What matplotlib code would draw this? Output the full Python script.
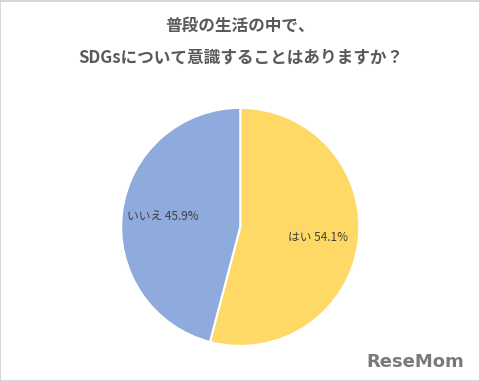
import matplotlib.pyplot as plt
from matplotlib.patches import Rectangle

plt.rcParams['font.family'] = ['Noto Sans CJK JP', 'DejaVu Sans']

labels = ['はい', 'いいえ']
values = [54.1, 45.9]
colors = ['#FFD966', '#8FAADC']

fig = plt.figure(figsize=(4.81, 3.81), dpi=100)
fig.patch.set_facecolor('white')

# light frame round the picture
fig.patches.append(Rectangle((0.001, 0.001), 0.997, 0.996, transform=fig.transFigure,
                             fill=False, edgecolor='#D0D0D0', linewidth=1.2))

ax = fig.add_axes([0.252, 0.092, 0.495, 0.625])
names = iter(labels)
ax.pie(values, colors=colors, startangle=90, counterclock=False,
       wedgeprops=dict(edgecolor='white', linewidth=1.5),
       autopct=lambda p: f'{next(names)} {p:.1f}%', pctdistance=0.66,
       textprops=dict(color='#404040', fontsize=8.5))
ax.set_xlim(-1, 1)
ax.set_ylim(-1, 1)
ax.set_aspect('equal')

fig.text(0.5, 0.932, '普段の生活の中で、', ha='center', va='center',
         fontsize=12, fontweight='bold', color='#595959')
fig.text(0.5, 0.848, 'SDGsについて意識することはありますか？', ha='center', va='center',
         fontsize=12, fontweight='bold', color='#595959')

fig.text(0.965, 0.05, 'ReseMom', ha='right', va='center', fontsize=13,
         fontweight='bold', color='#7A7A7A', family='DejaVu Sans')

fig.savefig('out.png', dpi=100)
